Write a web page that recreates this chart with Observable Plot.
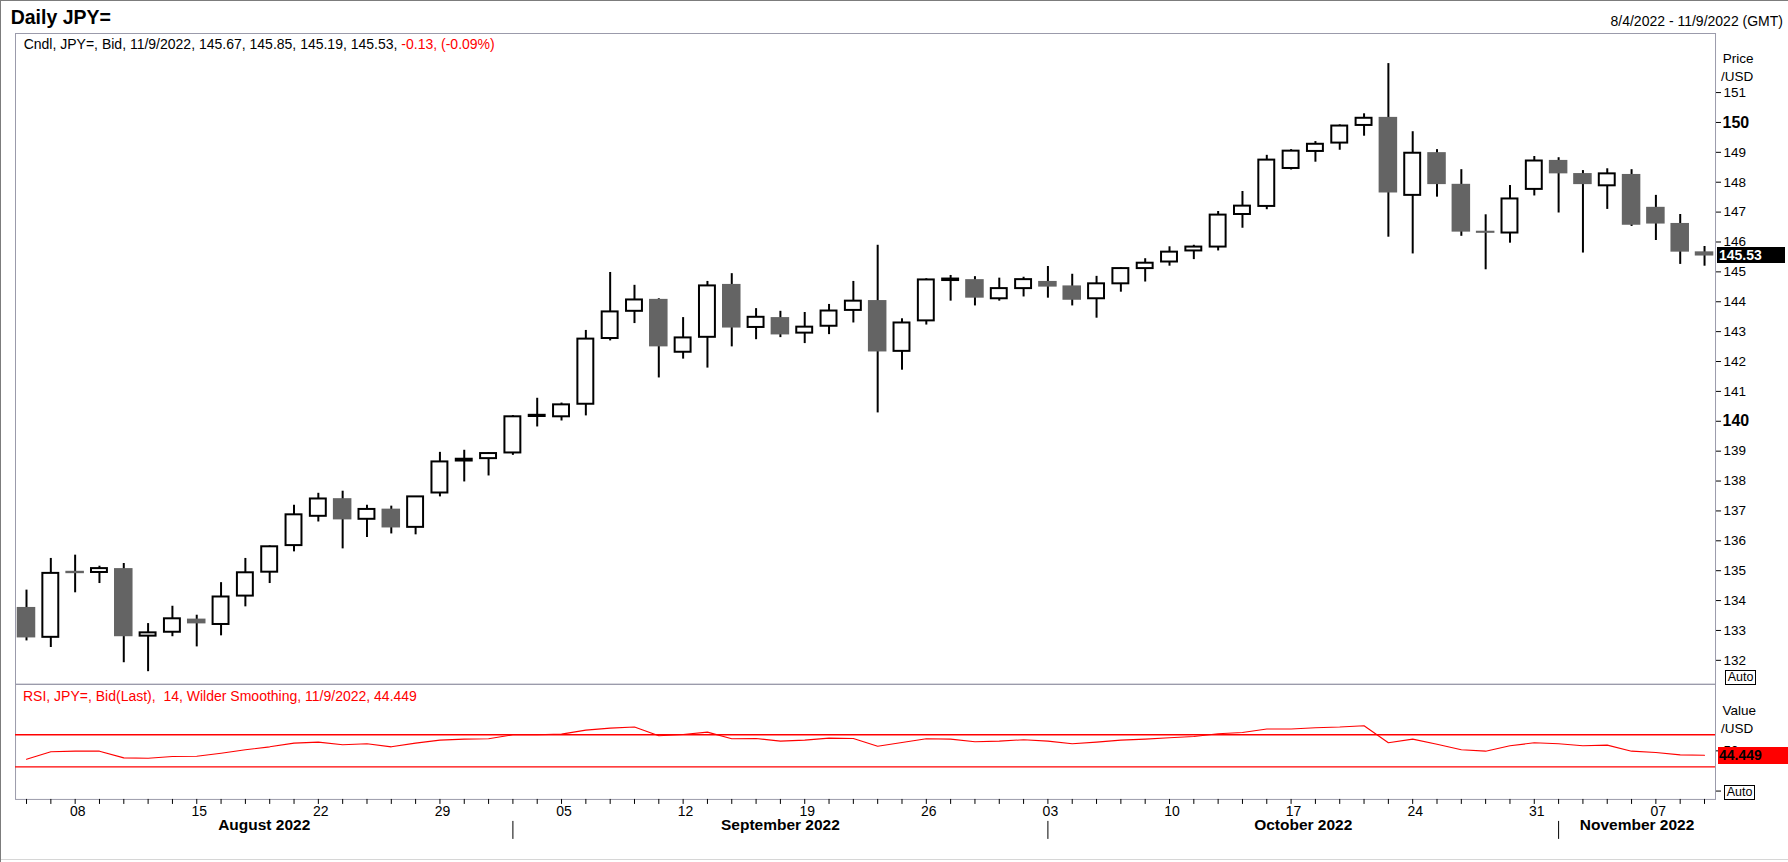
<!DOCTYPE html>
<html><head><meta charset="utf-8">
<script src="https://cdn.jsdelivr.net/npm/d3@7"></script>
<script src="https://cdn.jsdelivr.net/npm/@observablehq/plot@0.6"></script>
<style>
html,body{margin:0;padding:0;background:#fff;}
#page{position:relative;width:1788px;height:862px;overflow:hidden;font-family:"Liberation Sans",Arial,sans-serif;background:#fff;box-sizing:border-box;border-top:1px solid #7c7c7c;border-left:1px solid #7c7c7c;}
.abs{position:absolute;white-space:pre;line-height:1;}
.box{position:absolute;box-sizing:border-box;white-space:pre;line-height:1;}
.plotsvg{position:absolute;left:0;}
</style></head><body><div id="page"></div>
<script>
// ---------- data ----------
const dates = ["2022-08-04","2022-08-05","2022-08-08","2022-08-09","2022-08-10","2022-08-11","2022-08-12",
"2022-08-15","2022-08-16","2022-08-17","2022-08-18","2022-08-19","2022-08-22","2022-08-23","2022-08-24","2022-08-25","2022-08-26",
"2022-08-29","2022-08-30","2022-08-31","2022-09-01","2022-09-02","2022-09-05","2022-09-06","2022-09-07","2022-09-08","2022-09-09",
"2022-09-12","2022-09-13","2022-09-14","2022-09-15","2022-09-16","2022-09-19","2022-09-20","2022-09-21","2022-09-22","2022-09-23",
"2022-09-26","2022-09-27","2022-09-28","2022-09-29","2022-09-30","2022-10-03","2022-10-04","2022-10-05","2022-10-06","2022-10-07",
"2022-10-10","2022-10-11","2022-10-12","2022-10-13","2022-10-14","2022-10-17","2022-10-18","2022-10-19","2022-10-20","2022-10-21",
"2022-10-24","2022-10-25","2022-10-26","2022-10-27","2022-10-28","2022-10-31","2022-11-01","2022-11-02","2022-11-03","2022-11-04",
"2022-11-07","2022-11-08","2022-11-09"];
const open = [133.77,132.77,134.98,134.94,135.07,132.81,132.94,133.38,133.20,134.15,134.95,135.84,136.82,137.41,136.72,137.06,136.45,
137.60,138.67,138.75,138.94,140.16,140.15,140.57,142.77,143.68,144.08,142.31,142.81,144.58,143.14,143.47,142.95,143.18,143.71,144.04,142.34,
143.36,144.71,144.74,144.10,144.44,144.68,144.53,144.10,144.60,145.11,145.33,145.70,145.83,146.92,147.19,148.46,149.03,149.31,149.90,150.17,
147.56,148.99,147.93,146.36,146.30,147.76,148.73,148.29,147.88,148.26,147.16,146.62,145.67];
const high = [134.35,135.41,135.52,135.15,135.24,133.23,133.81,133.51,134.60,135.41,135.83,137.19,137.59,137.66,137.19,137.16,137.48,
138.96,139.03,138.95,140.19,140.77,140.61,143.04,144.98,144.55,144.10,143.47,144.68,144.94,143.77,143.68,143.64,143.91,144.68,145.89,143.43,
144.77,144.88,144.84,144.79,144.82,145.18,144.92,144.85,145.14,145.44,145.84,145.89,147.02,147.69,148.90,149.09,149.36,149.92,150.29,151.97,
149.69,149.09,148.42,146.91,147.89,148.86,148.82,148.39,148.45,148.42,147.56,146.92,145.85];
const low = [132.65,132.43,134.26,134.57,131.92,131.62,132.79,132.45,132.82,133.79,134.57,135.63,136.63,135.73,136.11,136.23,136.20,
137.47,137.97,138.17,138.86,139.81,140.01,140.18,142.69,143.27,141.45,142.08,141.78,142.49,142.73,142.80,142.60,142.90,143.29,140.28,141.71,
143.22,144.02,143.86,144.02,144.16,144.12,143.86,143.45,144.32,144.66,145.19,145.41,145.70,146.46,147.08,148.41,148.67,149.07,149.54,146.16,
145.60,147.50,146.19,145.07,145.96,147.54,146.97,145.63,147.09,146.52,146.05,145.25,145.19];
const close = [132.75,134.91,134.90,135.07,132.79,132.92,133.39,133.22,134.12,134.93,135.80,136.87,137.40,136.70,137.05,136.43,137.47,
138.64,138.73,138.92,140.15,140.20,140.55,142.75,143.66,144.06,142.49,142.79,144.53,143.12,143.48,142.89,143.15,143.69,144.02,142.32,143.29,
144.73,144.76,144.12,144.44,144.74,144.49,144.05,144.60,145.11,145.29,145.66,145.83,146.90,147.20,148.74,149.04,149.27,149.88,150.14,147.64,
148.97,147.92,146.33,146.29,147.44,148.71,148.28,147.92,148.28,146.56,146.60,145.66,145.53];
const rsi = [39.6,48.8,49.6,49.6,41.3,40.8,42.9,43.3,47.1,51.3,55.0,59.6,60.8,57.5,58.8,55.0,59.6,
63.3,64.6,65.0,70.0,70.0,70.8,75.8,78.3,79.6,68.8,70.4,73.3,65.0,65.4,62.1,63.3,65.8,65.4,55.8,60.4,
65.0,64.6,61.3,62.1,63.8,62.1,58.8,60.8,63.3,64.6,66.3,67.9,71.3,72.9,77.1,77.1,78.8,79.6,81.3,60.0,
64.6,58.3,51.3,49.6,56.3,60.0,58.8,56.3,57.1,49.6,47.9,45.0,44.449];
const priceTicks = [132,133,134,135,136,137,138,139,140,141,142,143,144,145,146,147,148,149,150,151];
const boldPriceTicks = [140,150];
const rsiLevels = [70,30];
const rsiLabelTicks = [50];
const rsiBareTicks = [0];
const monthNames = ["August 2022","September 2022","October 2022","November 2022"];
const symbol = "JPY=";
const rangeText = "8/4/2022 - 11/9/2022 (GMT)";

// ---------- derived tables ----------
const candles = dates.map((d,i)=>({i, date:d, open:open[i], high:high[i], low:low[i], close:close[i]}));
const rsiData = rsi.map((v,i)=>({i, v}));
const mondays = candles.filter(d=>new Date(d.date+"T00:00:00Z").getUTCDay()===1).map(d=>d.i);
const monthStarts = candles.filter((d,i)=>i===0 || d.date.slice(5,7)!==dates[i-1].slice(5,7)).map(d=>d.i);
const xDomain = [-0.452, 69.452];
const bounds = [xDomain[0], ...monthStarts.slice(1), xDomain[1]];
const monthLabels = monthNames.map((name,k)=>({name, x:(bounds[k]+bounds[k+1])/2}));
const last = candles[candles.length-1], prev = candles[candles.length-2];
const chg = last.close - prev.close;

const FONT = '"Liberation Sans", Arial, sans-serif';
const FRAME = "#9b9bab";
const common = {
  width:1788, marginLeft:15, marginRight:72,
  x:{domain:xDomain, axis:null},
  style:{fontFamily:FONT, fontSize:"13.5px", background:"none", overflow:"visible", color:"#000"}
};

const pricePlot = Plot.plot({
  ...common, height:653, marginTop:1, marginBottom:1,
  y:{domain:[131.204,152.977], axis:null},
  marks:[
    Plot.frame({stroke:FRAME}),
    Plot.ruleX(candles,{x:"i", y1:"low", y2:"high", stroke:"#000", strokeWidth:2}),
    Plot.rect(candles.filter(d=>d.close<d.open),{x1:d=>d.i-0.5, x2:d=>d.i+0.5, y1:"open", y2:"close", insetLeft:2.9, insetRight:2.9, fill:"#646464"}),
    Plot.rect(candles.filter(d=>d.close>=d.open),{x1:d=>d.i-0.5, x2:d=>d.i+0.5, y1:"open", y2:"close", insetLeft:4.2, insetRight:4.2, fill:"#fff", stroke:"#000", strokeWidth:2}),
    Plot.axisY(priceTicks.filter(t=>!boldPriceTicks.includes(t)),{anchor:"right", tickSize:5, tickPadding:3, fontSize:13.5, label:null}),
    Plot.axisY(boldPriceTicks,{anchor:"right", tickSize:5, tickPadding:2, fontSize:16, fontWeight:"bold", label:null})
  ]
});

const rsiPlot = Plot.plot({
  ...common, height:179, marginTop:1, marginBottom:63,
  y:{domain:[-10.4,132.5], axis:null},
  marks:[
    Plot.frame({stroke:FRAME}),
    Plot.ruleY(rsiLevels,{stroke:"#ff0000", strokeWidth:1.3}),
    Plot.line(rsiData,{x:"i", y:"v", stroke:"#ff0000", strokeWidth:1.1}),
    Plot.axisY(rsiLabelTicks,{anchor:"right", tickSize:5, tickPadding:3, fontSize:13.5, label:null}),
    Plot.axisY(rsiBareTicks,{anchor:"right", tickSize:5, fill:"none", label:null}),
    Plot.axisX(candles.map(d=>d.i),{anchor:"bottom", tickSize:5, fill:"none", label:null}),
    Plot.axisX(mondays,{anchor:"bottom", tickSize:0, tickPadding:7, dx:2.5, tickFormat:i=>dates[i].slice(8,10), fontSize:14, label:null}),
    Plot.axisX(monthStarts.slice(1),{anchor:"bottom", tickSize:18, dy:22, fill:"none", label:null}),
    Plot.text(monthLabels,{x:"x", text:"name", frameAnchor:"bottom", dy:31, fontSize:15.5, fontWeight:"bold"})
  ]
});

const page = document.getElementById("page");
const PRICE_TOP = 31, RSI_TOP = 682; // page has 1px top border
pricePlot.classList.add("plotsvg"); pricePlot.style.top = PRICE_TOP+"px"; pricePlot.style.left = "-1px";
rsiPlot.classList.add("plotsvg"); rsiPlot.style.top = RSI_TOP+"px"; rsiPlot.style.left = "-1px";
page.appendChild(pricePlot);
page.appendChild(rsiPlot);

function addText(html, left, top, size, extra){
  const el = document.createElement("div");
  el.className = "abs";
  el.style.left = left+"px"; el.style.top = top+"px"; el.style.fontSize = size+"px";
  if (extra) Object.assign(el.style, extra);
  el.innerHTML = html;
  page.appendChild(el);
  return el;
}
function addBox(text, left, top, w, h, size, extra){
  const el = document.createElement("div");
  el.className = "box";
  Object.assign(el.style, {left:left+"px", top:top+"px", width:w+"px", height:h+"px", fontSize:size+"px", lineHeight:h+"px"});
  if (extra) Object.assign(el.style, extra);
  el.textContent = text;
  page.appendChild(el);
  return el;
}

// titles and headers
addText("Daily " + symbol, 9.7, 6.6, 19.5, {fontWeight:"bold"});
const rt = addText(rangeText, 0, 13, 14); rt.style.left = ""; rt.style.right = "5px";
const fmtDate = d => { const [y,m,dd] = d.split("-"); return (+m)+"/"+(+dd)+"/"+y; };
addText("Cndl, " + symbol + ", Bid, " + fmtDate(last.date) + ", " + [last.open,last.high,last.low,last.close].map(v=>v.toFixed(2)).join(", ") + ", " +
  '<span style="color:#ff0000">' + chg.toFixed(2) + ", (" + (chg/prev.close*100).toFixed(2) + "%)</span>", 22.7, 35.5, 14);
addText("RSI, " + symbol + ", Bid(Last),  14, Wilder Smoothing, " + fmtDate(last.date) + ", " + rsi[rsi.length-1].toFixed(3), 22, 688, 14, {color:"#ff0000"});
addText("Price", 1721.7, 50.5, 13.5);
addText("/USD", 1720, 68.5, 13.5);
addText("Value", 1721.6, 702.5, 13.5);
addText("/USD", 1720, 721.2, 13.5);

// last value boxes (positioned with the plots' scales)
const yP = pricePlot.scale("y").apply(last.close) + PRICE_TOP;
addBox(last.close.toFixed(2), 1716, yP - 8.5, 68, 16, 14, {background:"#000", color:"#fff", fontWeight:"bold", paddingLeft:"2px"});
const yR = rsiPlot.scale("y").apply(rsi[rsi.length-1]) + RSI_TOP;
addBox(rsi[rsi.length-1].toFixed(3), 1717, yR - 8, 72, 17, 14, {background:"#ff0000", color:"#000", fontWeight:"bold", paddingLeft:"1px"});

// Auto boxes
addBox("Auto", 1724, 669, 31, 15, 12.5, {background:"#fff", border:"1px solid #000", textAlign:"center", lineHeight:"13px"});
addBox("Auto", 1723, 784, 31, 15, 12.5, {background:"#fff", border:"1px solid #000", textAlign:"center", lineHeight:"13px"});

// bottom border
const bb = document.createElement("div");
Object.assign(bb.style, {position:"absolute", left:"0", top:"858px", width:"1788px", height:"1px", background:"#d6d6d6"});
page.appendChild(bb);
</script>
</body></html>
